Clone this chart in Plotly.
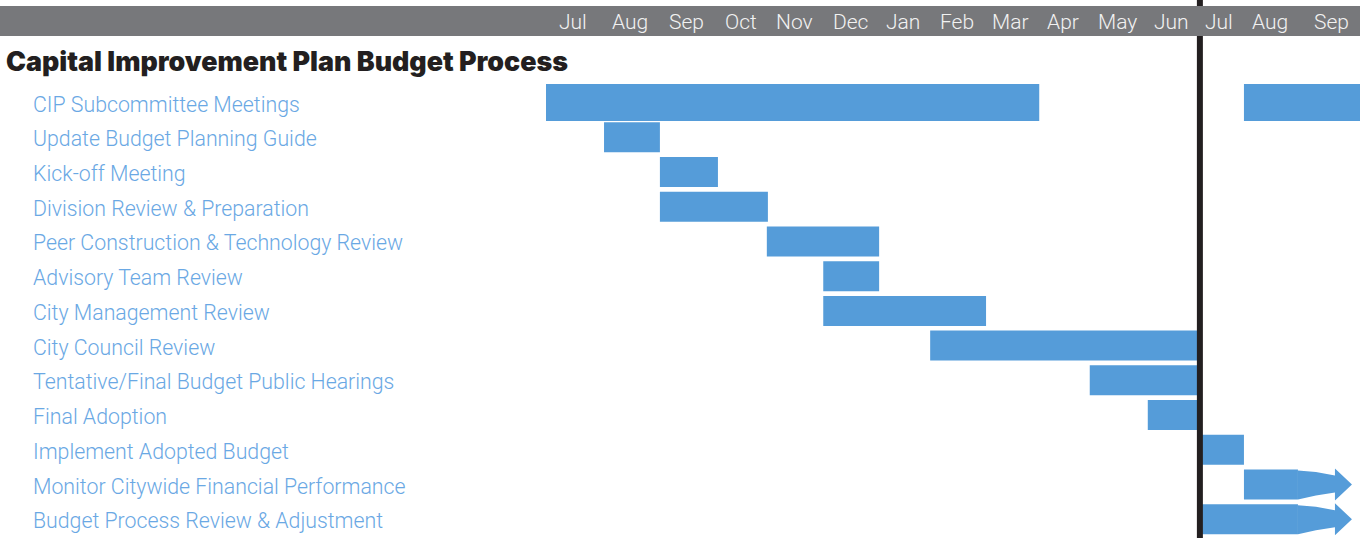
import plotly.graph_objects as go

# ---------------- data ----------------
title = "Capital Improvement Plan Budget Process"
months = ["Jul", "Aug", "Sep", "Oct", "Nov", "Dec", "Jan", "Feb", "Mar",
          "Apr", "May", "Jun", "Jul", "Aug", "Sep"]
# month label centres, in months since 1 Jul
month_pos = [0.5, 1.56, 2.62, 3.63, 4.62, 5.66, 6.64, 7.65, 8.65, 9.62,
             10.63, 11.65, 12.53, 13.47, 14.61]

tasks = ["CIP Subcommittee Meetings", "Update Budget Planning Guide",
         "Kick-off Meeting", "Division Review & Preparation",
         "Peer Construction & Technology Review", "Advisory Team Review",
         "City Management Review", "City Council Review",
         "Tentative/Final Budget Public Hearings", "Final Adoption",
         "Implement Adopted Budget", "Monitor Citywide Financial Performance",
         "Budget Process Review & Adjustment"]

# bar segments: task index, start, end (months since 1 Jul)
seg_task = [0, 0, 1, 2, 3, 4, 5, 6, 7, 8, 9, 10]
seg_start = [0.0, 12.99, 1.08, 2.12, 2.12, 4.11, 5.16, 5.16, 7.15, 10.12, 11.20, 12.21]
seg_end = [9.18, 15.3, 2.12, 3.20, 4.13, 6.20, 6.20, 8.19, 12.17, 12.17, 12.17, 12.99]

# ongoing tasks drawn as arrows: task index, start, arrow tip
arrow_task = [11, 12]
arrow_start = [12.99, 12.21]
arrow_tip = [15.0, 15.0]

today = 12.17  # vertical marker (1 Jul, new fiscal year)

# ---------------- style ----------------
W, H = 1360, 538
BAR = "#559CD9"
LABEL = "#6AA8E4"
HEADER = "#77787B"
X0_PX, PX_PER_M = 546.0, 53.73
Y0_PX, PX_PER_ROW = 102.5, 34.73

xr = [-X0_PX / PX_PER_M, (W - X0_PX) / PX_PER_M]
yr = [(H - Y0_PX) / PX_PER_ROW, -Y0_PX / PX_PER_ROW]

fig = go.Figure()

widths = [37 / PX_PER_ROW if t == 0 else 30 / PX_PER_ROW for t in seg_task]
fig.add_trace(go.Bar(
    orientation="h", y=seg_task, base=seg_start,
    x=[e - s for s, e in zip(seg_start, seg_end)],
    width=widths, marker=dict(color=BAR, line=dict(width=0)),
    hoverinfo="skip", showlegend=False))

# arrows: body bar + shaft/head polygon
arrow_px = [(-54, -14), (-36, -12.5), (-17, -9), (-17, -16), (0, 0),
            (-17, 16), (-17, 8), (-36, 11), (-54, 15)]
body_end = [t - 54 / PX_PER_M for t in arrow_tip]
fig.add_trace(go.Bar(
    orientation="h", y=arrow_task, base=arrow_start,
    x=[e - s for s, e in zip(arrow_start, body_end)],
    width=30 / PX_PER_ROW, marker=dict(color=BAR, line=dict(width=0)),
    hoverinfo="skip", showlegend=False))
for t, tip in zip(arrow_task, arrow_tip):
    xs = [tip + dx / PX_PER_M for dx, dy in arrow_px]
    ys = [t + dy / PX_PER_ROW for dx, dy in arrow_px]
    fig.add_trace(go.Scatter(x=xs + [xs[0]], y=ys + [ys[0]], mode="lines",
                             fill="toself", fillcolor=BAR, line=dict(width=0),
                             hoverinfo="skip", showlegend=False))

shapes = [
    dict(type="line", xref="x", yref="paper", x0=today, x1=today, y0=0, y1=1,
         line=dict(color="#231F20", width=6), layer="above"),
    dict(type="rect", xref="paper", yref="paper", x0=0, x1=1,
         y0=1 - 36 / H, y1=1 - 6 / H, fillcolor=HEADER, line=dict(width=0),
         layer="above"),
]

ann = []
for m, p in zip(months, month_pos):
    ann.append(dict(x=p, y=1 - 22 / H, xref="x", yref="paper", text=m,
                    showarrow=False, xanchor="center", yanchor="middle",
                    font=dict(family="Roboto", size=21, color="#F2F2F2",
                              weight=300)))
ann.append(dict(x=4 / W, y=1 - 61 / H, xref="paper", yref="paper",
                text=title, showarrow=False, xanchor="left",
                yanchor="middle",
                font=dict(family="Inter", size=26.8, color="#231F20", weight=900)))
for i, t in enumerate(tasks):
    ann.append(dict(x=31 / W, y=i + 1.5 / PX_PER_ROW, xref="paper", yref="y",
                    text=t, showarrow=False, xanchor="left", yanchor="middle",
                    font=dict(family="Roboto", size=21.3, color=LABEL, weight=300)))

fig.update_layout(
    width=W, height=H, margin=dict(l=0, r=0, t=0, b=0),
    paper_bgcolor="white", plot_bgcolor="white", barmode="overlay",
    xaxis=dict(range=xr, visible=False, fixedrange=True),
    yaxis=dict(range=yr, visible=False, fixedrange=True),
    shapes=shapes, annotations=ann)

fig.write_html("out.html", config={"displayModeBar": False})
